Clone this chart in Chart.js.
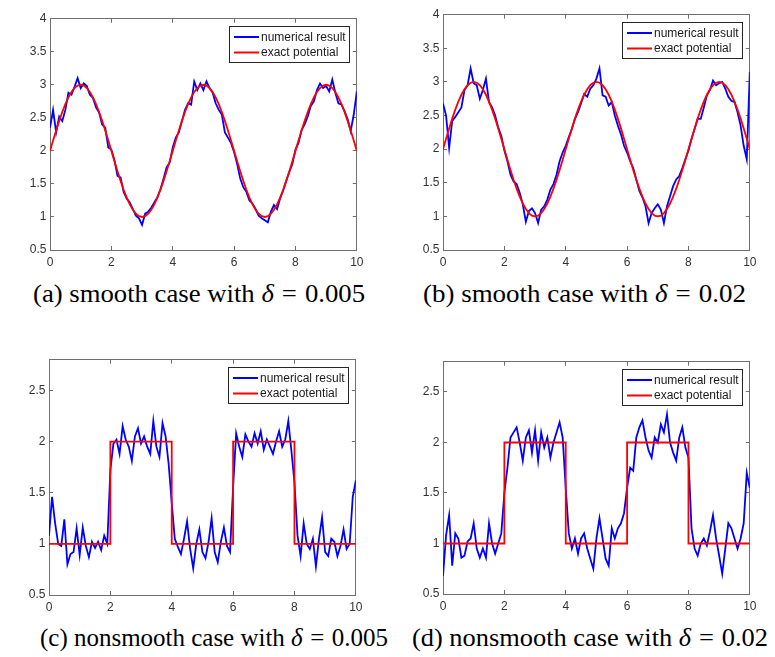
<!DOCTYPE html>
<html>
<head>
<meta charset="utf-8">
<script src="https://cdn.jsdelivr.net/npm/chart.js@4.4.0/dist/chart.umd.min.js"></script>
<style>
  html, body { margin:0; padding:0; background:#fff; }
  body { width:775px; height:657px; position:relative; overflow:hidden; }
  canvas { position:absolute; }
  .cap { position:absolute; white-space:nowrap; font-family:"Liberation Serif","Times New Roman",serif; font-size:25px; line-height:25px; color:#000; transform-origin:left top; }
  .cap i { font-style:italic; }
  .cap .eq { margin:0 0.3em; }
</style>
</head>
<body>
<canvas id="pa"></canvas>
<canvas id="pb"></canvas>
<canvas id="pc"></canvas>
<canvas id="pd"></canvas>
<div class="cap" id="ca" style="top:281px;">(a) smooth case with <i>δ</i><span class="eq">=</span>0.005</div>
<div class="cap" id="cb" style="top:281px;">(b) smooth case with <i>δ</i><span class="eq">=</span>0.02</div>
<div class="cap" id="cc" style="top:625px;">(c) nonsmooth case with <i>δ</i><span class="eq">=</span>0.005</div>
<div class="cap" id="cd" style="top:625px;">(d) nonsmooth case with <i>δ</i><span class="eq">=</span>0.02</div>
<script>
// ---------------- data ----------------
const X_GRID = [0,0.1,0.2,0.3,0.4,0.5,0.6,0.7,0.8,0.9,
  1,1.1,1.2,1.3,1.4,1.5,1.6,1.7,1.8,1.9,
  2,2.1,2.2,2.3,2.4,2.5,2.6,2.7,2.8,2.9,
  3,3.1,3.2,3.3,3.4,3.5,3.6,3.7,3.8,3.9,
  4,4.1,4.2,4.3,4.4,4.5,4.6,4.7,4.8,4.9,
  5,5.1,5.2,5.3,5.4,5.5,5.6,5.7,5.8,5.9,
  6,6.1,6.2,6.3,6.4,6.5,6.6,6.7,6.8,6.9,
  7,7.1,7.2,7.3,7.4,7.5,7.6,7.7,7.8,7.9,
  8,8.1,8.2,8.3,8.4,8.5,8.6,8.7,8.8,8.9,
  9,9.1,9.2,9.3,9.4,9.5,9.6,9.7,9.8,9.9,
  10];

const EXACT_SMOOTH = [2.000,2.156,2.309,2.454,2.588,2.707,2.809,2.891,2.951,2.988,
  3.000,2.988,2.951,2.891,2.809,2.707,2.588,2.454,2.309,2.156,
  2.000,1.844,1.691,1.546,1.412,1.293,1.191,1.109,1.049,1.012,
  1.000,1.012,1.049,1.109,1.191,1.293,1.412,1.546,1.691,1.844,
  2.000,2.156,2.309,2.454,2.588,2.707,2.809,2.891,2.951,2.988,
  3.000,2.988,2.951,2.891,2.809,2.707,2.588,2.454,2.309,2.156,
  2.000,1.844,1.691,1.546,1.412,1.293,1.191,1.109,1.049,1.012,
  1.000,1.012,1.049,1.109,1.191,1.293,1.412,1.546,1.691,1.844,
  2.000,2.156,2.309,2.454,2.588,2.707,2.809,2.891,2.951,2.988,
  3.000,2.988,2.951,2.891,2.809,2.707,2.588,2.454,2.309,2.156,
  2.000];

const STEP_X = [0,2,2,4,4,6,6,8,8,10];
const STEP_Y = [1,1,2,2,1,1,2,2,1,1];

const NUM_A = [2.35,2.62,2.28,2.52,2.45,2.62,2.88,2.85,2.97,3.10,
  2.95,3.02,2.98,2.85,2.80,2.66,2.58,2.40,2.35,2.05,
  2.02,1.86,1.62,1.60,1.38,1.28,1.22,1.12,1.02,0.98,
  0.88,1.05,1.08,1.14,1.22,1.30,1.42,1.58,1.75,1.82,
  2.05,2.20,2.28,2.45,2.62,2.72,2.70,3.05,2.92,3.02,
  2.92,3.05,2.95,2.88,2.72,2.62,2.55,2.28,2.20,2.12,
  1.98,1.80,1.58,1.45,1.38,1.25,1.20,1.12,1.02,0.98,
  0.95,0.92,1.08,1.18,1.12,1.28,1.40,1.55,1.68,1.80,
  2.02,2.12,2.32,2.40,2.52,2.68,2.75,2.92,3.02,2.95,
  2.98,2.90,3.08,2.88,2.72,2.70,2.60,2.48,2.30,2.55,
  2.90];

const NUM_B = [2.68,2.50,2.02,2.42,2.48,2.55,2.62,2.88,2.95,3.20,
  2.98,2.95,2.75,2.88,3.05,2.70,2.62,2.50,2.32,2.20,
  1.98,1.82,1.62,1.52,1.48,1.35,1.18,0.92,1.08,1.12,
  1.05,0.90,1.10,1.15,1.25,1.40,1.48,1.62,1.82,1.95,
  2.05,2.18,2.30,2.45,2.55,2.68,2.82,2.78,2.90,2.95,
  3.05,3.20,2.80,2.78,2.65,2.70,2.50,2.35,2.22,2.05,
  1.95,1.82,1.72,1.55,1.38,1.28,1.15,0.90,1.05,1.12,
  1.18,1.10,0.90,1.15,1.30,1.45,1.55,1.60,1.72,1.85,
  1.98,2.15,2.30,2.45,2.45,2.62,2.80,2.88,3.02,2.95,
  2.98,3.00,2.90,2.78,2.72,2.70,2.55,2.35,2.05,1.85,
  3.15];

const NUM_C = [1.08,1.46,1.20,1.00,0.98,1.24,0.80,0.90,0.92,1.15,
  0.89,1.16,0.98,0.87,1.02,0.96,1.02,0.94,1.08,1.00,
  1.72,1.98,2.02,1.88,2.15,2.02,1.95,1.81,2.05,2.13,
  1.98,2.05,1.95,1.88,2.20,1.95,1.85,2.18,2.05,1.78,
  1.40,1.05,0.97,0.90,1.05,1.22,0.95,0.76,1.00,1.14,
  0.92,0.86,1.02,1.25,0.92,0.82,1.02,1.16,0.98,0.92,
  1.55,2.08,1.95,1.85,2.07,2.00,1.95,2.08,1.98,2.10,
  1.92,2.02,1.95,1.88,2.00,2.10,1.95,2.02,2.20,1.91,
  1.60,1.08,0.88,1.20,1.00,0.95,1.05,0.78,1.05,1.26,
  0.92,0.88,1.05,1.02,0.88,0.98,1.14,0.95,1.00,1.46,
  1.62];

const NUM_D = [0.68,1.08,1.28,0.78,1.10,1.05,0.86,0.88,1.02,1.05,
  1.20,0.95,0.86,0.95,0.86,1.20,1.00,0.90,1.00,1.10,
  1.50,1.75,2.05,2.10,2.15,2.00,1.82,2.05,2.12,1.90,
  2.12,1.82,2.10,1.95,2.05,1.85,2.00,2.10,2.20,2.05,
  1.55,1.10,0.95,1.05,0.90,1.05,1.10,0.95,0.85,0.75,
  1.05,1.25,1.05,0.85,0.78,1.15,1.05,1.15,1.20,1.30,
  1.55,1.75,1.72,2.05,2.15,2.22,2.05,1.92,1.85,2.05,
  2.00,2.18,2.10,2.28,2.00,1.90,1.82,2.05,2.15,1.95,
  1.85,1.15,0.95,0.88,1.00,1.05,0.98,1.12,1.28,1.05,
  0.88,0.70,0.95,1.20,1.15,1.05,0.95,1.05,1.20,1.70,
  1.55];

const X_TICKS = [0,2,4,6,8,10];
const Y_TICKS_SMOOTH = [0.5,1,1.5,2,2.5,3,3.5,4];
const Y_TICKS_STEP = [0.5,1,1.5,2,2.5];
const LABEL_NUM = 'numerical result';
const LABEL_EXACT = 'exact potential';

// ---------------- styling / layout ----------------
const AXIS = '#6f6f6f';
const TICKTXT = '#333333';
const FONT = { family: '"Liberation Sans", Arial, Helvetica, sans-serif', size: 12 };
const PAD_TOP = 8, PAD_RIGHT = 12, Y_W = 50, X_H = 22;

const pts = (xs, ys) => xs.map((x, i) => ({ x: x, y: ys[i] }));

const boxLegend = {
  id: 'boxLegend',
  afterDraw(chart) {
    const { ctx, chartArea: a } = chart;
    const w = 120, h = 36;
    const x = Math.round(a.right - 8 - w), y = Math.round(a.top + 7);
    ctx.save();
    ctx.fillStyle = '#ffffff';
    ctx.fillRect(x, y, w, h);
    ctx.strokeStyle = '#262626';
    ctx.lineWidth = 1;
    ctx.strokeRect(x + 0.5, y + 0.5, w, h);
    ctx.font = '12px "Liberation Sans", Arial, sans-serif';
    ctx.textBaseline = 'middle';
    ctx.textAlign = 'left';
    chart.data.datasets.forEach((ds, i) => {
      const ly = y + 11 + i * 15.5;
      ctx.strokeStyle = ds.borderColor;
      ctx.lineWidth = 2;
      ctx.beginPath();
      ctx.moveTo(x + 5, ly);
      ctx.lineTo(x + 30, ly);
      ctx.stroke();
      ctx.fillStyle = '#1a1a1a';
      ctx.fillText(ds.label, x + 32, ly + 0.5);
    });
    ctx.restore();
  }
};

function axis(pos, min, max, tickVals, showLabels, fitFn, padding) {
  return {
    type: 'linear', position: pos, min: min, max: max,
    grid: { drawOnChartArea: false, drawTicks: true, tickLength: -4, color: AXIS, lineWidth: 1 },
    border: { display: true, color: AXIS, width: 1 },
    ticks: { display: showLabels, font: FONT, color: TICKTXT, padding: padding, autoSkip: false, maxRotation: 0, callback: v => String(v) },
    afterBuildTicks: s => { s.ticks = tickVals.map(v => ({ value: v })); },
    afterFit: fitFn
  };
}

function panel(id, area, yMin, yMax, yTicks, numY, exactX, exactY) {
  const c = document.getElementById(id);
  const W = area.R - area.L + Y_W + PAD_RIGHT;
  const H = area.B - area.T + PAD_TOP + X_H;
  c.width = W; c.height = H;
  c.style.left = (area.L - Y_W) + 'px';
  c.style.top = (area.T - PAD_TOP) + 'px';
  c.style.width = W + 'px'; c.style.height = H + 'px';
  new Chart(c, {
    type: 'line',
    data: {
      datasets: [
        { label: LABEL_NUM, data: pts(X_GRID, numY), borderColor: '#0000ff', borderWidth: 1.8, pointRadius: 0, tension: 0, order: 2, fill: false },
        { label: LABEL_EXACT, data: pts(exactX, exactY), borderColor: '#ff0000', borderWidth: 1.8, pointRadius: 0, tension: 0, order: 1, fill: false }
      ]
    },
    options: {
      responsive: false, animation: false, devicePixelRatio: 1,
      layout: { padding: { top: PAD_TOP, right: PAD_RIGHT, left: 0, bottom: 0 } },
      plugins: { legend: { display: false }, tooltip: { enabled: false } },
      scales: {
        x: axis('bottom', 0, 10, X_TICKS, true, s => { s.height = X_H; }, 9.5),
        x2: axis('top', 0, 10, X_TICKS, false, s => { s.height = 0; }, 0),
        y: axis('left', yMin, yMax, yTicks, true, s => { s.width = Y_W; }, 7.5),
        y2: axis('right', yMin, yMax, yTicks, false, s => { s.width = 0; }, 0)
      }
    },
    plugins: [boxLegend]
  });
}

panel('pa', { L: 50, R: 361, T: 12, B: 250 }, 0.5, 4, Y_TICKS_SMOOTH, NUM_A, X_GRID, EXACT_SMOOTH);
panel('pb', { L: 443, R: 754, T: 8, B: 250 }, 0.5, 4, Y_TICKS_SMOOTH, NUM_B, X_GRID, EXACT_SMOOTH);
panel('pc', { L: 49, R: 360, T: 353, B: 595 }, 0.5, 2.8, Y_TICKS_STEP, NUM_C, STEP_X, STEP_Y);
panel('pd', { L: 443, R: 754, T: 355, B: 594 }, 0.5, 2.8, Y_TICKS_STEP, NUM_D, STEP_X, STEP_Y);

// caption layout: each caption stretched to span its measured extent
(function () {
  const spans = { ca: [33, 365], cb: [423, 746], cc: [40, 388], cd: [412, 768] };
  Object.keys(spans).forEach(id => {
    const el = document.getElementById(id);
    const w = el.getBoundingClientRect().width;
    const [l, r] = spans[id];
    el.style.transform = 'scaleX(' + ((r - l) / w) + ')';
    el.style.left = l + 'px';
  });
})();
</script>
</body>
</html>
